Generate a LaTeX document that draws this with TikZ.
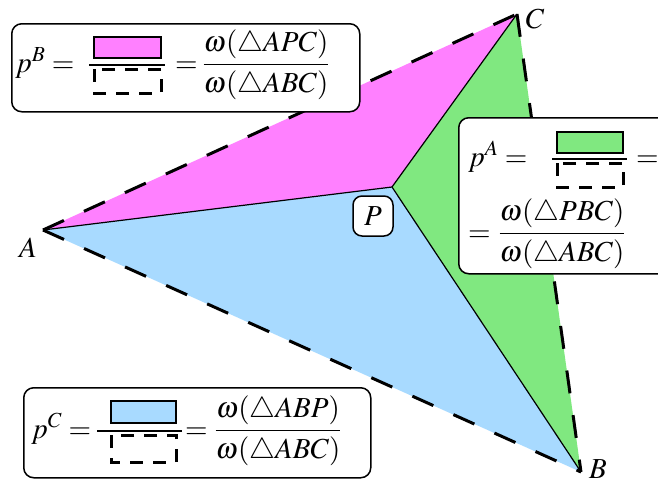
\documentclass[tikz,border=0pt]{standalone}
\usepackage{mathptmx}
\definecolor{fillM}{RGB}{255,128,255}
\definecolor{fillG}{RGB}{128,232,128}
\definecolor{fillB}{RGB}{168,218,255}
\newcommand{\numr}{\rule[-0.32em]{0pt}{0.32em}}
\newcommand{\denr}{\rule{0pt}{0.82em}}
\begin{document}
\begin{tikzpicture}[x=1pt,y=-1pt,
  tri/.style={line width=3pt, dash pattern=on 23pt off 22pt},
  spoke/.style={line width=1.2pt},
  infobox/.style={draw=black, line width=1.5pt, fill=white, rounded corners=10pt, inner sep=0pt, anchor=north west},
  txt/.style={inner sep=0pt, anchor=base west, font=\fontsize{29}{34}\selectfont},
  ftxt/.style={inner sep=0pt, anchor=base, font=\fontsize{29}{34}\selectfont},
  lbl/.style={inner sep=0pt, font=\fontsize{29}{34}\selectfont},
  bar/.style={line width=1.3pt},
  solidrect/.style={draw=black, line width=1.5pt},
  dashrect/.style={draw=black, line width=3pt, dash pattern=on 13pt off 10pt},
]
\useasboundingbox (0,0) rectangle (658,483);
\coordinate (A) at (43,230);
\coordinate (B) at (581,472);
\coordinate (C) at (517,14);
\coordinate (P) at (392,187);
% regions
\fill[fillM] (A) -- (P) -- (C) -- cycle;
\fill[fillG] (P) -- (C) -- (B) -- cycle;
\fill[fillB] (A) -- (P) -- (B) -- cycle;
% spokes
\draw[spoke] (A) -- (P);
\draw[spoke] (C) -- (P);
\draw[spoke] (B) -- (P);
% triangle
\draw[tri] (A) -- (C);
\draw[tri] (C) -- (B);
\draw[tri] (A) -- (B);
% vertex labels
\node[lbl] (lA) at (28,248) {$A$};
\node[lbl] (lB) at (598,469) {$B$};
\node[lbl] (lC) at (535,19) {$C$};
\node[draw=black, line width=1.5pt, fill=white, rounded corners=9pt, minimum width=40pt, minimum height=40pt, inner sep=0pt, font=\fontsize{29}{34}\selectfont] (lP) at (373,216) {$P$};
% box B
\node[infobox, minimum width=348pt, minimum height=88pt] (boxB) at (11,23) {};
\node[txt] (pB) at (15,72) {$p^B =$};
\draw[solidrect, fill=fillM] (94,37) rectangle (161,58);
\draw[bar] (89,65) -- (165,65);
\draw[dashrect] (94,69) rectangle (161,93);
\node[txt] (eqB) at (175,72) {$=$};
\node[ftxt] (fB) at (266,72) {$\displaystyle\frac{\numr\omega(\triangle APC)}{\denr\omega(\triangle ABC)}$};
% box A
\node[infobox, minimum width=260pt, minimum height=156pt] (boxA) at (458,117) {};
\node[txt] (pA) at (468,166) {$p^A =$};
\draw[solidrect, fill=fillG] (557,132) rectangle (623,153);
\draw[bar] (552,159) -- (627,159);
\draw[dashrect] (557,163) rectangle (623,187);
\node[txt] (eqA1) at (636,166) {$=$};
\node[txt] (eqA2) at (468,241) {$=$};
\node[ftxt] (fA) at (562,241) {$\displaystyle\frac{\numr\omega(\triangle PBC)}{\denr\omega(\triangle ABC)}$};
% box C
\node[infobox, minimum width=347pt, minimum height=90pt] (boxC) at (23,387) {};
\node[txt] (pC) at (31,438) {$p^C =$};
\draw[solidrect, fill=fillB] (111,401) rectangle (176,423);
\draw[bar] (97,431) -- (182,431);
\draw[dashrect] (111,435) rectangle (176,462);
\node[txt] (eqC) at (185,438) {$=$};
\node[ftxt] (fC) at (278,438) {$\displaystyle\frac{\numr\omega(\triangle ABP)}{\denr\omega(\triangle ABC)}$};
\end{tikzpicture}
\end{document}
